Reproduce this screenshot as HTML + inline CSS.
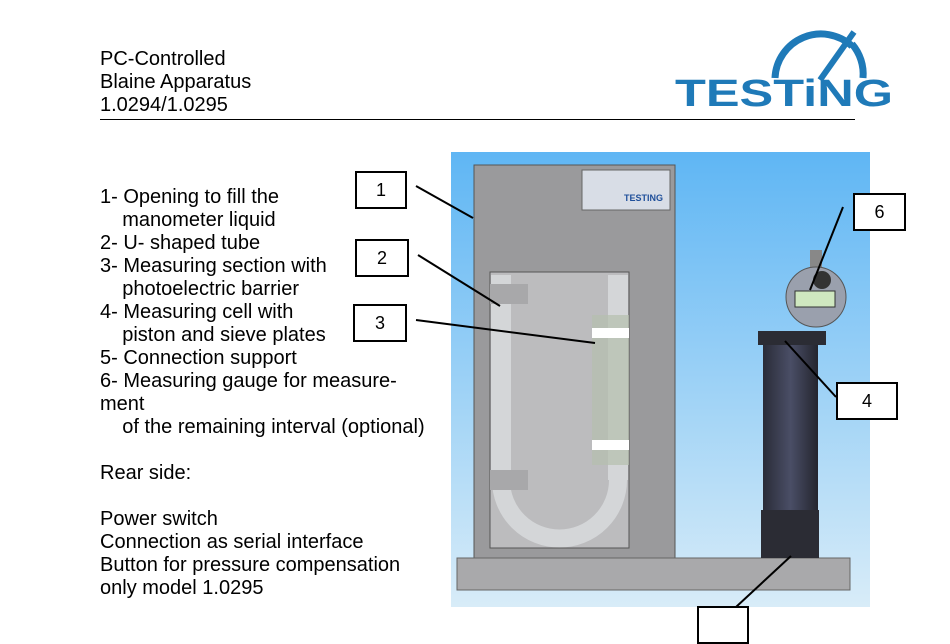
<!DOCTYPE html>
<html><head><meta charset="utf-8"><style>
body{margin:0;width:950px;height:619px;background:#fff;position:relative;overflow:hidden;font-family:"Liberation Sans",sans-serif;color:#000}
.t{position:absolute;font-size:20px;line-height:23px;white-space:pre}
.box{position:absolute;border:2px solid #000;background:#fff;font-size:18px;text-align:center;box-sizing:border-box}
</style></head><body>
<div class="t" style="left:100px;top:48px">PC-Controlled
Blaine Apparatus
1.0294/1.0295</div>
<div style="position:absolute;left:100px;top:119px;width:755px;height:1px;background:#000"></div>
<svg style="position:absolute;left:670px;top:28px" width="230" height="85">
<path d="M105 50 A46 46 0 0 1 182 18" fill="none" stroke="#1f7ab8" stroke-width="7"/>
<path d="M182 16 A46 46 0 0 1 193 50" fill="none" stroke="#1f7ab8" stroke-width="7"/>
<line x1="150" y1="52" x2="184" y2="4" stroke="#1f7ab8" stroke-width="6"/>
<text x="5" y="78" font-family="Liberation Sans" font-weight="bold" font-size="38" fill="#1f7ab8" textLength="218" lengthAdjust="spacingAndGlyphs">TESTiNG</text>
</svg>
<div class="t" style="left:100px;top:186px">1- Opening to fill the
    manometer liquid
2- U- shaped tube
3- Measuring section with
    photoelectric barrier
4- Measuring cell with
    piston and sieve plates
5- Connection support
6- Measuring gauge for measure-
ment
    of the remaining interval (optional)

Rear side:

Power switch
Connection as serial interface
Button for pressure compensation
only model 1.0295</div>
<svg style="position:absolute;left:0;top:0" width="950" height="619">
<defs>
<linearGradient id="sky" x1="0" y1="0" x2="0" y2="1"><stop offset="0" stop-color="#5fb6f4"/><stop offset="1" stop-color="#d8ecf8"/></linearGradient>
<linearGradient id="col" x1="0" y1="0" x2="1" y2="0"><stop offset="0" stop-color="#2a2c38"/><stop offset=".5" stop-color="#4a4e66"/><stop offset="1" stop-color="#24252e"/></linearGradient>
<clipPath id="win"><rect x="490" y="272" width="139" height="276"/></clipPath>
</defs>
<rect x="451" y="152" width="419" height="455" fill="url(#sky)"/>
<rect x="474" y="165" width="201" height="393" fill="#9a9a9c" stroke="#555"/>
<rect x="582" y="170" width="88" height="40" fill="#d8dde6" stroke="#666"/>
<text x="624" y="201" font-size="9" font-weight="bold" fill="#1f4f9a">TESTING</text>
<rect x="490" y="272" width="139" height="276" fill="#bcbcbe" stroke="#555"/>
<g clip-path="url(#win)">
<rect x="491" y="275" width="20" height="205" fill="#d4d6d8"/>
<rect x="608" y="275" width="20" height="205" fill="#d4d6d8"/>
<path d="M501 480 A58 58 0 0 0 618 480" fill="none" stroke="#d4d6d8" stroke-width="18"/>
</g>
<rect x="592" y="315" width="37" height="150" fill="#b5bfae" opacity=".7"/>
<rect x="592" y="328" width="37" height="10" fill="#fff"/>
<rect x="592" y="440" width="37" height="10" fill="#fff"/>
<rect x="490" y="284" width="38" height="20" fill="#a8a8aa"/>
<rect x="490" y="470" width="38" height="20" fill="#a8a8aa"/>
<rect x="457" y="558" width="393" height="32" fill="#a9a9ab" stroke="#666"/>
<rect x="758" y="331" width="68" height="14" fill="#2b2c34"/>
<rect x="763" y="345" width="55" height="213" fill="url(#col)"/>
<rect x="761" y="510" width="58" height="48" fill="#2b2c34"/>
<rect x="810" y="250" width="12" height="20" fill="#888"/>
<circle cx="816" cy="297" r="30" fill="#9aa0ad" stroke="#555"/>
<rect x="795" y="291" width="40" height="16" fill="#cfe8c0" stroke="#333"/>
<circle cx="822" cy="280" r="9" fill="#333"/>
<g stroke="#000" stroke-width="2">
<line x1="416" y1="186" x2="473" y2="218"/>
<line x1="418" y1="255" x2="500" y2="306"/>
<line x1="416" y1="320" x2="595" y2="343"/>
<line x1="843" y1="207" x2="810" y2="290"/>
<line x1="836" y1="397" x2="785" y2="341"/>
<line x1="736" y1="607" x2="791" y2="556"/>
</g>
</svg>
<div class="box" style="left:355px;top:171px;width:52px;height:38px;line-height:34px">1</div>
<div class="box" style="left:355px;top:239px;width:54px;height:38px;line-height:34px">2</div>
<div class="box" style="left:353px;top:304px;width:54px;height:38px;line-height:34px">3</div>
<div class="box" style="left:853px;top:193px;width:53px;height:38px;line-height:34px">6</div>
<div class="box" style="left:836px;top:382px;width:62px;height:38px;line-height:34px">4</div>
<div class="box" style="left:697px;top:606px;width:52px;height:38px"></div>
</body></html>
